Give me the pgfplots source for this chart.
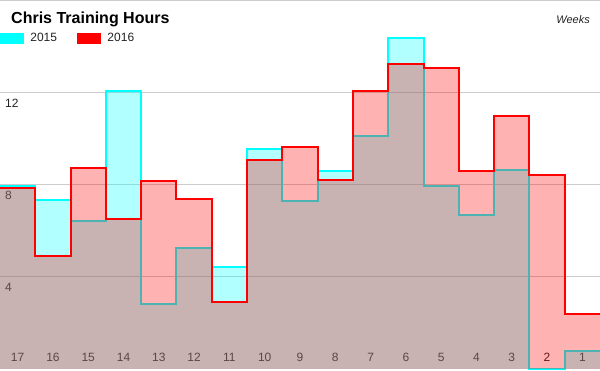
\documentclass[border=0pt]{standalone}
\usepackage{pgfplots}
\usepackage{pgfplotstable}
\pgfplotsset{compat=1.18}
\usepackage{fontspec}
\setmainfont{Liberation Sans}

\definecolor{gcyan}{RGB}{0,255,255}
\definecolor{gred}{RGB}{255,0,0}
\definecolor{gtext}{RGB}{34,34,34}
\definecolor{ggrid}{RGB}{204,204,204}

\newcommand\haloshift[3]{\rlap{\hspace{#1}\raisebox{#2}{\color{white}#3}}}
\newcommand\halo[1]{\leavevmode\haloshift{1.2bp}{0bp}{#1}\haloshift{-1.2bp}{0bp}{#1}\haloshift{0bp}{1.2bp}{#1}\haloshift{0bp}{-1.2bp}{#1}\haloshift{0.85bp}{0.85bp}{#1}\haloshift{-0.85bp}{0.85bp}{#1}\haloshift{0.85bp}{-0.85bp}{#1}\haloshift{-0.85bp}{-0.85bp}{#1}#1}

% x = position (0 = week 17, ..., 16 = week 1); last row closes the final step
\pgfplotstableread{
x   y
0   7.94
1   7.35
2   6.43
3   12.09
4   2.81
5   5.26
6   4.45
7   9.55
8   7.32
9   8.61
10  10.14
11  14.39
12  7.97
13  6.70
14  8.67
15  0
16  0.80
17  0.80
}\tfifteen

\pgfplotstableread{
x   y
0   7.85
1   4.93
2   8.72
3   6.54
4   8.17
5   7.39
6   2.90
7   9.09
8   9.65
9   8.20
10  12.10
11  13.27
12  13.09
13  8.60
14  11.01
15  8.43
16  2.39
17  2.39
}\tsixteen

\begin{document}
\begin{tikzpicture}
\useasboundingbox (0,0) rectangle (600bp,371bp);
\begin{axis}[
  at={(0,0)}, anchor=south west,
  scale only axis, width=600bp, height=371bp,
  xmin=0, xmax=17, ymin=-0.087, ymax=16.043,
  axis line style={draw=none},
  major tick length=0pt,
  xtick={0.5,1.5,2.5,3.5,4.5,5.5,6.5,7.5,8.5,9.5,10.5,11.5,12.5,13.5,14.5,15.5,16.5},
  xticklabels={\halo{17},\halo{16},\halo{15},\halo{14},\halo{13},\halo{12},\halo{11},\halo{10},\halo{9},\halo{8},\halo{7},\halo{6},\halo{5},\halo{4},\halo{3},\halo{2},\halo{1}},
  ytick={4,8,12,16},
  yticklabels={\halo{4},\halo{8},\halo{12},{}},
  ymajorgrids,
  grid style={draw=ggrid, line width=1bp},
  xticklabel style={anchor=base, inner sep=0pt, yshift=10bp, text=gtext, font=\fontsize{12bp}{14bp}\selectfont},
  yticklabel style={anchor=north west, inner sep=0pt, xshift=5bp, yshift=-4.5bp, text=gtext, font=\fontsize{12bp}{14bp}\selectfont},
  legend style={at={(0,0.911)}, anchor=north west, draw=none, fill=none, inner sep=0pt, outer sep=0pt,
    row sep=0pt, column sep=0pt,
    nodes={inner sep=0pt, text=gtext, font=\fontsize{12bp}{14bp}\selectfont},
    /tikz/every odd column/.style={column sep=7bp},
    /tikz/every even column/.style={column sep=20bp}},
  legend columns=2,
]
\addplot[const plot, draw=none, fill=gcyan, fill opacity=0.3, forget plot] table[x=x,y=y] {\tfifteen} \closedcycle;
\addplot[const plot, draw=gcyan, line width=2bp, forget plot] table[x=x,y=y] {\tfifteen};
\addplot[const plot, draw=none, fill=gred, fill opacity=0.3, forget plot] table[x=x,y=y] {\tsixteen} \closedcycle;
\addplot[const plot, draw=gred, line width=2bp, forget plot] table[x=x,y=y] {\tsixteen};
\addlegendimage{legend image code/.code={\fill[gcyan] (0bp,-5bp) rectangle (23bp,5bp);}}
\addlegendentry{2015}
\addlegendimage{legend image code/.code={\fill[gred] (0bp,-5bp) rectangle (23bp,5bp);}}
\addlegendentry{2016}
\end{axis}
\node[anchor=base west, inner sep=0pt, font=\fontsize{16bp}{19bp}\selectfont\bfseries] at (11bp,347bp) {Chris Training Hours};
\node[anchor=base east, inner sep=0pt, text=gtext, font=\fontsize{11bp}{13bp}\selectfont\itshape] at (590bp,347bp) {Weeks};
\end{tikzpicture}
\end{document}
